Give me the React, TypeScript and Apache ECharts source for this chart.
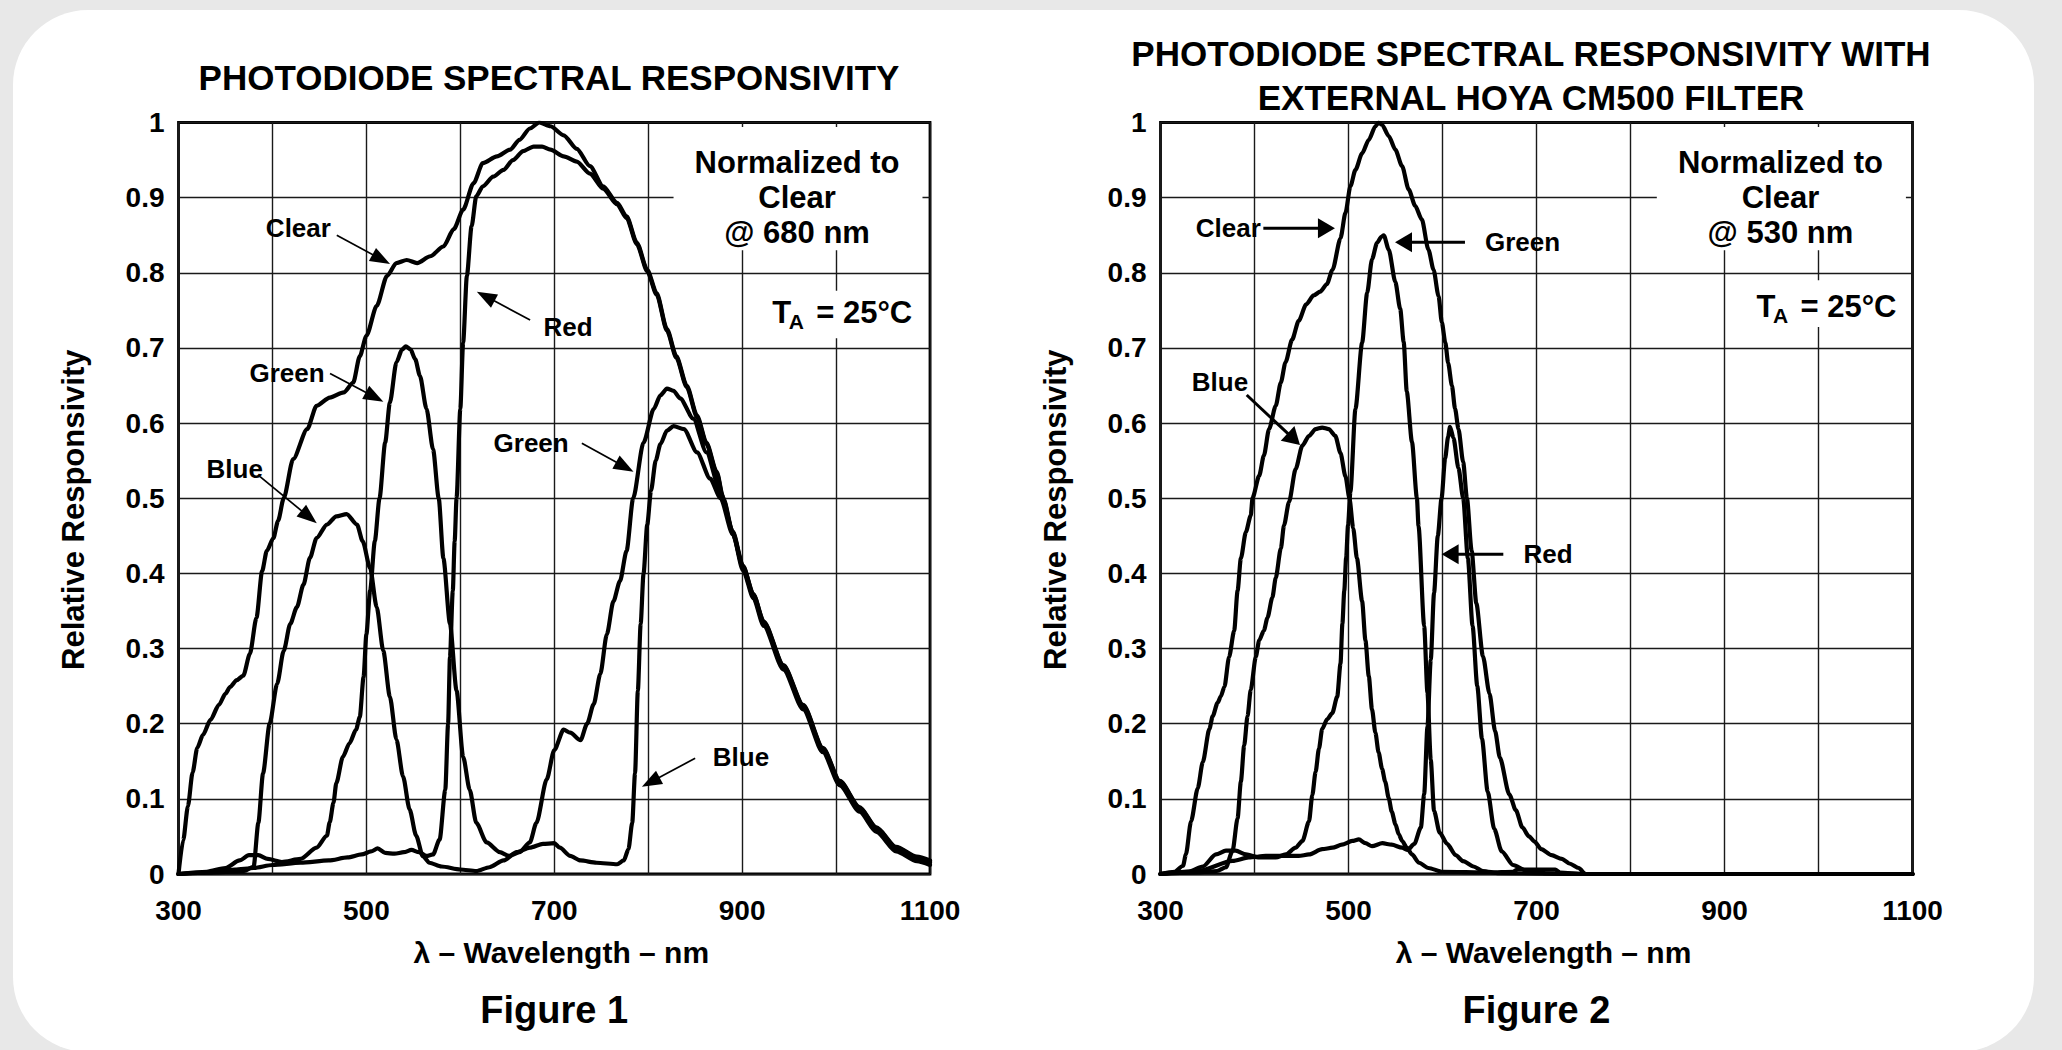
import React, { useEffect, useRef } from "react";
import * as echarts from "echarts";

const FONT = '"Liberation Sans", Arial, Helvetica, sans-serif';

// ---- tick labels ----
const xTickLabels = [300, 500, 700, 900, 1100];
const yTickLabels = ["0", "0.1", "0.2", "0.3", "0.4", "0.5", "0.6", "0.7", "0.8", "0.9", "1"];

// ---- titles / captions ----
const title1 = "PHOTODIODE SPECTRAL RESPONSIVITY";
const title2 = "PHOTODIODE SPECTRAL RESPONSIVITY WITH\nEXTERNAL HOYA CM500 FILTER";
const captions = ["Figure 1", "Figure 2"];
const xName = "λ – Wavelength – nm";
const yName = "Relative Responsivity";

// ---- Figure 1 series (nm, relative responsivity) ----
const fig1Clear: [number, number][] = [
  [300, 0], [305, 0.045], [310, 0.09], [315, 0.135], [320, 0.168], [326, 0.185], [334, 0.205], [343, 0.225],
  [350, 0.24], [355, 0.249], [362, 0.258], [369, 0.264], [376, 0.293], [383, 0.341], [389, 0.403], [394, 0.43],
  [401, 0.447], [406, 0.47], [412, 0.5], [422, 0.552], [437, 0.592], [447, 0.623], [461, 0.634], [476, 0.641],
  [486, 0.654], [493, 0.689], [500, 0.716], [511, 0.756], [522, 0.796], [532, 0.813], [543, 0.817], [554, 0.813],
  [568, 0.822], [582, 0.835], [593, 0.858], [603, 0.884], [614, 0.919], [624, 0.946], [639, 0.955], [653, 0.964],
  [663, 0.977], [674, 0.992], [684, 1.0], [696, 0.995], [710, 0.983], [724, 0.965], [738, 0.942], [752, 0.915],
  [767, 0.893], [777, 0.875], [788, 0.84], [799, 0.804], [809, 0.773], [820, 0.725], [830, 0.689], [841, 0.65],
  [852, 0.61], [862, 0.574], [873, 0.535], [880, 0.5], [890, 0.455], [901, 0.407], [912, 0.37], [923, 0.333],
  [944, 0.275], [965, 0.222], [986, 0.165], [1004, 0.121], [1025, 0.086], [1043, 0.059], [1064, 0.033],
  [1086, 0.02], [1100, 0.015],
];
const fig1Red: [number, number][] = [
  [300, 0], [330, 0.002], [360, 0.006], [380, 0.008], [400, 0.012], [430, 0.015], [460, 0.018], [480, 0.022],
  [495, 0.026], [505, 0.03], [512, 0.034], [520, 0.028], [530, 0.027], [540, 0.029], [548, 0.032], [556, 0.029],
  [564, 0.024], [571, 0.026], [578, 0.046], [584, 0.112], [587, 0.2], [589, 0.289], [592, 0.377], [594, 0.443],
  [596, 0.5], [600, 0.619], [603, 0.707], [607, 0.796], [612, 0.862], [617, 0.902], [624, 0.915], [635, 0.928],
  [646, 0.937], [656, 0.95], [667, 0.962], [678, 0.968], [687, 0.968], [696, 0.964], [710, 0.955], [724, 0.948],
  [738, 0.932], [752, 0.912], [767, 0.891], [777, 0.873], [788, 0.838], [799, 0.802], [809, 0.771], [820, 0.723],
  [830, 0.687], [841, 0.648], [852, 0.608], [862, 0.572], [873, 0.533], [880, 0.498], [890, 0.453], [901, 0.404],
  [912, 0.367], [923, 0.33], [944, 0.272], [965, 0.219], [986, 0.162], [1004, 0.118], [1025, 0.083],
  [1043, 0.056], [1064, 0.03], [1086, 0.017], [1100, 0.012],
];
const fig1Green: [number, number][] = [
  [300, 0], [330, 0.003], [350, 0.008], [365, 0.018], [375, 0.025], [385, 0.025], [395, 0.02], [410, 0.016],
  [430, 0.02], [447, 0.035], [458, 0.051], [461, 0.069], [465, 0.095], [468, 0.121], [475, 0.156], [482, 0.174],
  [489, 0.192], [493, 0.209], [497, 0.262], [500, 0.319], [504, 0.377], [509, 0.443], [514, 0.5], [520, 0.574],
  [525, 0.627], [532, 0.681], [538, 0.698], [542, 0.702], [547, 0.698], [552, 0.685], [557, 0.663], [564, 0.619],
  [571, 0.565], [577, 0.5], [582, 0.42], [589, 0.333], [596, 0.244], [603, 0.156], [610, 0.112], [617, 0.068],
  [628, 0.042], [642, 0.029], [652, 0.024], [663, 0.029], [674, 0.042], [681, 0.068], [692, 0.126], [700, 0.165],
  [710, 0.192], [717, 0.188], [728, 0.178], [735, 0.2], [742, 0.226], [749, 0.266], [756, 0.319], [763, 0.363],
  [770, 0.39], [777, 0.43], [784, 0.5], [795, 0.574], [806, 0.619], [813, 0.637], [820, 0.646], [827, 0.643],
  [834, 0.633], [848, 0.606], [862, 0.561], [877, 0.508], [890, 0.456], [901, 0.41], [912, 0.372], [923, 0.335],
  [944, 0.277], [965, 0.224], [986, 0.167], [1004, 0.123], [1025, 0.088], [1043, 0.061], [1064, 0.035],
  [1086, 0.022], [1100, 0.017],
];
const fig1Blue: [number, number][] = [
  [300, 0], [340, 0.002], [370, 0.004], [380, 0.01], [385, 0.068], [390, 0.134], [397, 0.2], [405, 0.253],
  [412, 0.297], [419, 0.333], [426, 0.355], [433, 0.385], [440, 0.421], [447, 0.447], [458, 0.465], [468, 0.476],
  [479, 0.479], [490, 0.465], [496, 0.443], [504, 0.407], [511, 0.355], [518, 0.297], [525, 0.236], [532, 0.179],
  [539, 0.13], [546, 0.086], [553, 0.051], [560, 0.024], [567, 0.015], [580, 0.01], [600, 0.006], [617, 0.004],
  [631, 0.009], [646, 0.018], [660, 0.029], [674, 0.035], [688, 0.04], [700, 0.041], [706, 0.035], [717, 0.024],
  [728, 0.018], [745, 0.015], [767, 0.013], [774, 0.018], [779, 0.033], [783, 0.068], [786, 0.134], [789, 0.244],
  [792, 0.333], [795, 0.399], [799, 0.465], [803, 0.51], [808, 0.55], [813, 0.572], [820, 0.59], [827, 0.596],
  [838, 0.592], [852, 0.561], [866, 0.526], [877, 0.5], [890, 0.452], [901, 0.409], [912, 0.372], [923, 0.336],
  [944, 0.278], [965, 0.225], [986, 0.168], [1004, 0.124], [1025, 0.089], [1043, 0.062], [1064, 0.036],
  [1086, 0.023], [1100, 0.018],
];

// ---- Figure 2 series ----
const fig2Clear: [number, number][] = [
  [300, 0], [315, 0.003], [324, 0.011], [327, 0.026], [332.5, 0.07], [339.6, 0.114], [345, 0.149], [352, 0.193],
  [355.5, 0.21], [360.8, 0.228], [364, 0.236], [368, 0.249], [373, 0.289], [378.4, 0.324], [382, 0.377],
  [385.5, 0.42], [390.8, 0.455], [396, 0.477], [398, 0.501], [405, 0.53], [410, 0.557], [415.5, 0.592],
  [422.6, 0.623], [428, 0.654], [433, 0.681], [440, 0.711], [447, 0.736], [455, 0.758], [463, 0.77], [470, 0.775],
  [477, 0.785], [483, 0.804], [491.5, 0.846], [496.8, 0.88], [502, 0.915], [507.4, 0.937], [514.5, 0.959],
  [521.6, 0.977], [528.6, 0.995], [532, 1.0], [535.7, 0.997], [542.8, 0.982], [549.8, 0.964], [557, 0.942],
  [564, 0.911], [571, 0.889], [578, 0.871], [585, 0.831], [590.5, 0.804], [595.8, 0.769], [599.3, 0.734],
  [603, 0.707], [606, 0.68], [610, 0.65], [613.4, 0.619], [617, 0.592], [622, 0.548], [626, 0.5], [631, 0.43],
  [636, 0.36], [643, 0.29], [650, 0.24], [656, 0.19], [661, 0.155], [671, 0.106], [678, 0.085], [685, 0.062],
  [692, 0.05], [698, 0.043], [705, 0.033], [716, 0.025], [727, 0.02], [735, 0.014], [745, 0.008], [752, 0],
  [1100, 0],
];
const fig2Green: [number, number][] = [
  [300, 0], [330, 0.003], [345, 0.01], [359, 0.026], [369.6, 0.031], [380, 0.031], [391, 0.026], [405, 0.022],
  [422.6, 0.022], [433.2, 0.026], [443.8, 0.035], [451, 0.044], [458, 0.07], [461.5, 0.105], [465, 0.136],
  [468.6, 0.167], [472, 0.193], [477.4, 0.206], [482.7, 0.214], [488, 0.236], [491.5, 0.28], [493.5, 0.333],
  [495.5, 0.377], [497.5, 0.421], [499.5, 0.464], [502, 0.508], [507.4, 0.619], [514.5, 0.707], [519.8, 0.773],
  [525, 0.818], [530.4, 0.84], [535, 0.848], [537.5, 0.85], [542.8, 0.831], [549.8, 0.788], [555, 0.752],
  [558.7, 0.708], [562, 0.642], [567.5, 0.575], [572.8, 0.5], [574.5, 0.463], [580.5, 0.33], [584, 0.241],
  [587.5, 0.152], [591, 0.084], [597, 0.055], [605, 0.04], [614, 0.025], [622, 0.017], [633, 0.01], [643, 0.004],
  [660, 0.001], [750, 0], [1100, 0],
];
const fig2Blue: [number, number][] = [
  [300, 0], [340, 0.002], [360, 0.004], [369.6, 0.009], [376.7, 0.031], [382, 0.074], [385.5, 0.123],
  [389, 0.171], [392.6, 0.21], [396, 0.245], [401.4, 0.289], [405, 0.311], [410, 0.324], [413.8, 0.341],
  [419, 0.368], [422.6, 0.394], [428, 0.433], [431.4, 0.464], [436.7, 0.495], [443.8, 0.539], [450.9, 0.57],
  [458, 0.583], [465, 0.592], [472, 0.594], [479, 0.592], [486, 0.583], [491.5, 0.56], [496.8, 0.529],
  [501, 0.5], [505, 0.46], [509, 0.42], [514.5, 0.363], [518, 0.311], [521.6, 0.263], [525, 0.219],
  [528.6, 0.188], [532, 0.162], [535.7, 0.14], [539, 0.123], [542.8, 0.101], [546, 0.083], [550, 0.066],
  [553.4, 0.053], [557, 0.044], [562, 0.035], [567.5, 0.026], [575, 0.015], [585, 0.008], [600, 0.003],
  [650, 0.002], [675, 0.003], [680, 0.006], [720, 0.006], [725, 0.002], [750, 0], [1100, 0],
];
const fig2Red: [number, number][] = [
  [300, 0], [340, 0.004], [376.7, 0.0175], [394, 0.022], [412, 0.024], [430, 0.024], [447, 0.024], [458, 0.026],
  [472, 0.033], [483, 0.035], [493, 0.039], [504, 0.044], [511, 0.046], [518, 0.041], [525, 0.037], [536, 0.041],
  [546, 0.039], [557, 0.035], [563, 0.032], [570, 0.04], [577, 0.062], [580.5, 0.106], [584, 0.196],
  [587.5, 0.285], [591, 0.374], [595, 0.45], [599, 0.5], [602.8, 0.553], [606, 0.582], [608, 0.595],
  [611.7, 0.58], [617, 0.54], [622, 0.5], [627, 0.42], [632, 0.33], [637, 0.25], [642, 0.18], [648, 0.11],
  [655, 0.06], [663, 0.03], [675, 0.012], [690, 0.004], [710, 0.001], [750, 0], [1100, 0],
];

// ---- annotations (positions in data units: nm, responsivity) ----
type Callout = { text: string; at: [number, number]; from: [number, number]; to: [number, number] };
const fig1Callouts: Callout[] = [
  { text: "Clear", at: [427.6, 0.86], from: [468.5, 0.85], to: [525.2, 0.8117] },
  { text: "Green", at: [415.5, 0.6663], from: [461.3, 0.666], to: [518.1, 0.6285] },
  { text: "Red", at: [714.8, 0.7283], from: [674.3, 0.7372], to: [617.6, 0.7749] },
  { text: "Green", at: [675.4, 0.5731], from: [729.4, 0.5731], to: [784.4, 0.5353] },
  { text: "Blue", at: [359.9, 0.5385], from: [386.8, 0.5287], to: [447.2, 0.4667] },
  { text: "Blue", at: [898.8, 0.1553], from: [850, 0.154], to: [793.3, 0.1162] },
];
const fig2Callouts: Callout[] = [
  { text: "Clear", at: [372.1, 0.8592], from: [409.4, 0.8592], to: [485.6, 0.8592] },
  { text: "Green", at: [685.1, 0.8406], from: [623.9, 0.8406], to: [549.5, 0.8406] },
  { text: "Blue", at: [363.3, 0.6553], from: [391.7, 0.6374], to: [448.4, 0.5709] },
  { text: "Red", at: [712.2, 0.4254], from: [664.7, 0.4254], to: [599.1, 0.4254] },
];
const normTexts = ["Normalized to\nClear\n@ 680 nm", "Normalized to\nClear\n@ 530 nm"];
const normAt: [number, number][] = [[958.5, 0.9003], [959.5, 0.9003]];
const normBox: [number, number, number, number][] = [[827, 0.994, 1092, 0.83], [828, 0.994, 1093, 0.83]];
const taAt: [number, number][] = [[932, 0.747], [934, 0.755]];
const taBox: [number, number, number, number][] = [[928, 0.776, 1084, 0.713], [930, 0.79, 1088, 0.728]];

// ---- layout ----
const W = 2062;
const H = 1050;
const gridRects = [
  { left: 178.5, top: 122.5, width: 751.5, height: 751.5 },
  { left: 1160.5, top: 122.5, width: 752, height: 751.5 },
];

export default function App() {
  const ref = useRef<HTMLDivElement>(null);

  useEffect(() => {
    const chart = echarts.init(ref.current!, null, { renderer: "svg" });

    const axisFont = { fontFamily: FONT, fontWeight: "bold" as const, color: "#000" };

    const makeX = (gi: number) => ({
      type: "value",
      gridIndex: gi,
      min: 300,
      max: 1100,
      interval: 100,
      axisLine: { show: false },
      axisTick: { show: false },
      splitLine: { show: true, lineStyle: { color: "#1a1a1a", width: 1.4 } },
      axisLabel: {
        ...axisFont,
        fontSize: 28,
        margin: 22,
        formatter: (v: number) => (xTickLabels.includes(Math.round(v)) ? String(Math.round(v)) : ""),
      },
      name: xName,
      nameLocation: "middle",
      nameGap: 63,
      nameTextStyle: { ...axisFont, fontSize: 30, padding: [0, 0, 0, 14] },
    });
    const makeY = (gi: number) => ({
      type: "value",
      gridIndex: gi,
      min: 0,
      max: 1,
      interval: 0.1,
      axisLine: { show: false },
      axisTick: { show: false },
      splitLine: { show: true, lineStyle: { color: "#1a1a1a", width: 1.4 } },
      axisLabel: {
        ...axisFont,
        fontSize: 28,
        margin: 14,
        formatter: (v: number) => yTickLabels[Math.round(v * 10)] ?? "",
      },
      name: yName,
      nameLocation: "middle",
      nameGap: 90,
      nameTextStyle: { ...axisFont, fontSize: 31, padding: [0, 23, 0, 0] },
    });

    const mkSeries = (name: string, data: [number, number][], gi: number) => ({
      type: "line",
      name,
      xAxisIndex: gi,
      yAxisIndex: gi,
      data,
      showSymbol: false,
      symbol: "none",
      smooth: 0.25,
      smoothMonotone: "x",
      silent: true,
      lineStyle: { color: "#000", width: 4.2, cap: "round", join: "round" },
      z: 3,
    });

    chart.setOption({
      animation: false,
      backgroundColor: "#e8e8e8",
      title: [
        {
          text: title1,
          left: 549,
          top: 57,
          textAlign: "center",
          padding: 0,
          textStyle: { fontFamily: FONT, fontWeight: "bold", fontSize: 35, color: "#000", lineHeight: 40 },
        },
        {
          text: title2,
          left: 1531,
          top: 32,
          textAlign: "center",
          padding: 0,
          textStyle: { fontFamily: FONT, fontWeight: "bold", fontSize: 35, color: "#000", lineHeight: 43.5 },
        },
      ],
      grid: gridRects.map((g) => ({
        ...g,
        show: true,
        borderColor: "#000",
        borderWidth: 2.8,
        backgroundColor: "transparent",
        containLabel: false,
      })),
      xAxis: [makeX(0), makeX(1)],
      yAxis: [makeY(0), makeY(1)],
      series: [
        mkSeries("Clear", fig1Clear, 0),
        mkSeries("Green", fig1Green, 0),
        mkSeries("Blue", fig1Blue, 0),
        mkSeries("Red", fig1Red, 0),
        mkSeries("Clear", fig2Clear, 1),
        mkSeries("Green", fig2Green, 1),
        mkSeries("Blue", fig2Blue, 1),
        mkSeries("Red", fig2Red, 1),
      ],
    });

    const px = (gi: number, p: [number, number]) =>
      chart.convertToPixel({ gridIndex: gi } as any, p) as unknown as number[];

    const elements: any[] = [];
    // white card
    elements.push({
      type: "rect",
      shape: { x: 13, y: 10, width: 2021, height: 1042, r: 75 },
      style: { fill: "#ffffff" },
      z: -10,
      silent: true,
    });

    const txt = (text: string, x: number, y: number, size: number, align = "center", extra: any = {}) => ({
      type: "text",
      x,
      y,
      z: 30,
      silent: true,
      style: {
        text,
        font: `bold ${size}px ${FONT}`,
        fill: "#000",
        align,
        verticalAlign: "middle",
        textAlign: align,
        textVerticalAlign: "middle",
        ...extra,
      },
    });

    const arrow = (a: number[], b: number[], lw: number, hl: number, hw: number) => {
      const dx = b[0] - a[0];
      const dy = b[1] - a[1];
      const len = Math.hypot(dx, dy) || 1;
      const ux = dx / len;
      const uy = dy / len;
      const base = [b[0] - ux * hl, b[1] - uy * hl];
      const nx = -uy;
      const ny = ux;
      return [
        {
          type: "line",
          z: 30,
          silent: true,
          shape: { x1: a[0], y1: a[1], x2: base[0] + ux * 2, y2: base[1] + uy * 2 },
          style: { stroke: "#000", lineWidth: lw },
        },
        {
          type: "polygon",
          z: 30,
          silent: true,
          shape: {
            points: [
              [b[0], b[1]],
              [base[0] + nx * hw, base[1] + ny * hw],
              [base[0] - nx * hw, base[1] - ny * hw],
            ],
          },
          style: { fill: "#000" },
        },
      ];
    };

    const callouts = [fig1Callouts, fig2Callouts];
    const arrowStyle = [
      { lw: 1.7, hl: 20, hw: 7.5 },
      { lw: 3, hl: 17, hw: 10 },
    ];

    [0, 1].forEach((gi) => {
      // white boxes behind the notes
      [normBox[gi], taBox[gi]].forEach((bx) => {
        const p1 = px(gi, [bx[0], bx[1]]);
        const p2 = px(gi, [bx[2], bx[3]]);
        elements.push({
          type: "rect",
          z: 1,
          silent: true,
          shape: {
            x: Math.min(p1[0], p2[0]),
            y: Math.min(p1[1], p2[1]),
            width: Math.abs(p2[0] - p1[0]),
            height: Math.abs(p2[1] - p1[1]),
          },
          style: { fill: "#ffffff" },
        });
      });

      const np = px(gi, normAt[gi]);
      elements.push(txt(normTexts[gi], np[0], np[1], 31, "center", { lineHeight: 34.7 }));

      const tp = px(gi, taAt[gi]);
      elements.push(txt("T", tp[0], tp[1], 31, "left"));
      elements.push(txt("A", tp[0] + 16.5, tp[1] + 8.5, 21, "left"));
      elements.push(txt("= 25°C", tp[0] + 44, tp[1], 31, "left"));

      callouts[gi].forEach((c) => {
        const at = px(gi, c.at);
        elements.push(txt(c.text, at[0], at[1], 26));
        const s = arrowStyle[gi];
        elements.push(...arrow(px(gi, c.from), px(gi, c.to), s.lw, s.hl, s.hw));
      });

      const g = gridRects[gi];
      elements.push(txt(captions[gi], g.left + g.width / 2, 1010, 38));
    });

    chart.setOption({ graphic: { elements } });

    return () => chart.dispose();
  }, []);

  return <div ref={ref} style={{ position: "fixed", left: 0, top: 0, width: W, height: H }} />;
}
